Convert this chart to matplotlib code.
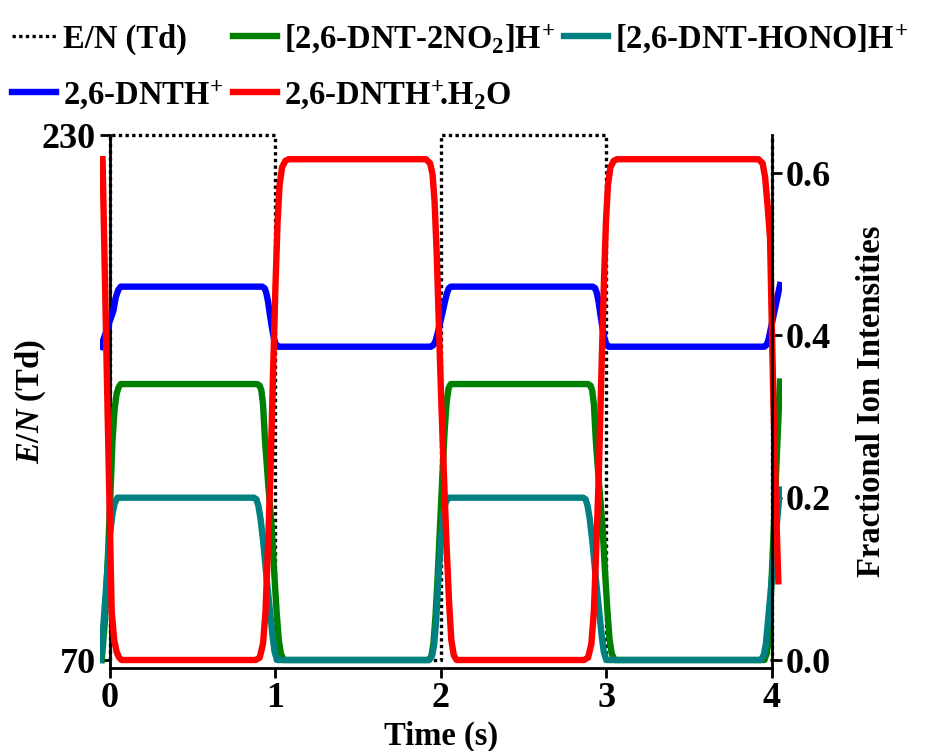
import matplotlib
matplotlib.use("Agg")
import matplotlib.pyplot as plt
from matplotlib.lines import Line2D

plt.rcParams['font.family'] = ['Liberation Serif', 'DejaVu Serif']
plt.rcParams['font.weight'] = 'bold'
plt.rcParams['axes.labelweight'] = 'bold'
plt.rcParams['mathtext.fontset'] = 'custom'
plt.rcParams['mathtext.rm'] = 'Liberation Serif:bold'
plt.rcParams['mathtext.it'] = 'Liberation Serif:italic:bold'
plt.rcParams['mathtext.bf'] = 'Liberation Serif:bold'

# E/N square wave (Td)
en_t = [0, 0, 1, 1, 2, 2, 3, 3, 4, 4]
en_v = [70, 230, 230, 70, 70, 230, 230, 70, 70, 230]

# 2,6-DNTH+.H2O
red_t = [-0.045, -0.016, 0.01, 0.025, 0.04, 0.055, 0.07,
         0.88, 0.905, 0.925, 0.94, 0.955, 0.97, 0.985, 1.0, 1.013, 1.025, 1.04, 1.06, 1.08,
         1.91, 1.935, 1.95, 1.962, 1.975, 1.99, 2.004, 2.02, 2.034, 2.05, 2.063, 2.078, 2.095,
         2.865, 2.89, 2.91, 2.925, 2.94, 2.955, 2.97, 2.985, 2.998, 3.01, 3.025, 3.045, 3.065,
         3.92, 3.945, 3.96, 3.975, 3.99, 4.01, 4.025, 4.04]
red_v = [0.617, 0.32, 0.06, 0.025, 0.01, 0.003, 0.0,
         0.0, 0.003, 0.02, 0.06, 0.14, 0.23, 0.35, 0.46, 0.54, 0.585, 0.607, 0.615, 0.617,
         0.617, 0.612, 0.598, 0.565, 0.50, 0.40, 0.31, 0.22, 0.144, 0.07, 0.025, 0.006, 0.0,
         0.0, 0.003, 0.02, 0.06, 0.14, 0.23, 0.35, 0.46, 0.54, 0.585, 0.607, 0.615, 0.617,
         0.617, 0.612, 0.595, 0.56, 0.52, 0.32, 0.20, 0.097]

# 2,6-DNTH+
blue_t = [-0.055, 0.02, 0.035, 0.05, 0.065,
          0.92, 0.935, 0.945, 0.955, 0.967, 0.98, 0.992, 1.003, 1.015,
          1.94, 1.955, 1.968, 1.98, 1.995, 2.01, 2.025, 2.037, 2.048, 2.06,
          2.918, 2.933, 2.943, 2.953, 2.965, 2.978, 2.99, 3.001, 3.013,
          3.955, 3.968, 3.98, 4.05]
blue_v = [0.386, 0.43, 0.447, 0.456, 0.46,
          0.46, 0.458, 0.452, 0.442, 0.425, 0.408, 0.395, 0.389, 0.386,
          0.386, 0.388, 0.393, 0.402, 0.415, 0.428, 0.442, 0.452, 0.458, 0.46,
          0.46, 0.458, 0.452, 0.442, 0.425, 0.408, 0.395, 0.389, 0.386,
          0.386, 0.388, 0.394, 0.462]

# [2,6-DNT-2NO2]H+
green_t = [-0.05, -0.03, -0.01, 0.015, 0.028, 0.04, 0.052, 0.065,
           0.89, 0.905, 0.915, 0.925, 0.937, 0.957, 0.977, 0.992, 1.007, 1.02, 1.033, 1.05,
           1.925, 1.942, 1.955, 1.968, 1.98, 1.995, 2.01, 2.022, 2.035, 2.047, 2.06,
           2.89, 2.905, 2.915, 2.925, 2.937, 2.957, 2.977, 2.992, 3.007, 3.02, 3.033, 3.05,
           3.955, 3.97, 3.985, 4.05]
green_v = [0.0, 0.05, 0.14, 0.27, 0.31, 0.328, 0.336, 0.34,
           0.34, 0.338, 0.332, 0.315, 0.27, 0.215, 0.165, 0.11, 0.06, 0.025, 0.008, 0.0,
           0.0, 0.004, 0.02, 0.055, 0.10, 0.165, 0.23, 0.28, 0.318, 0.335, 0.34,
           0.34, 0.338, 0.332, 0.315, 0.27, 0.215, 0.165, 0.11, 0.06, 0.025, 0.008, 0.0,
           0.0, 0.008, 0.03, 0.343]

# [2,6-DNT-HONO]H+
teal_t = [-0.055, -0.02, 0.0, 0.015, 0.028, 0.045,
          0.87, 0.885, 0.897, 0.91, 0.927, 0.947, 0.967, 0.982, 0.995, 1.01,
          1.93, 1.948, 1.96, 1.972, 1.985, 2.0, 2.01, 2.02, 2.033, 2.05,
          2.86, 2.875, 2.887, 2.9, 2.917, 2.937, 2.957, 2.972, 2.985, 3.0,
          3.935, 3.952, 3.965, 4.05]
teal_v = [0.0, 0.10, 0.155, 0.18, 0.193, 0.20,
          0.20, 0.198, 0.19, 0.174, 0.144, 0.10, 0.06, 0.03, 0.01, 0.0,
          0.0, 0.006, 0.02, 0.05, 0.10, 0.145, 0.17, 0.187, 0.196, 0.20,
          0.20, 0.198, 0.19, 0.174, 0.144, 0.10, 0.06, 0.03, 0.01, 0.0,
          0.0, 0.006, 0.02, 0.21]

fig = plt.figure(figsize=(9.25, 7.51), dpi=100)
ax = fig.add_axes([0.1082, 0.1105, 0.7368, 0.7097])
ax2 = ax.twinx()

lw = 4.6
ax.plot(en_t, en_v, color='black', lw=2.4, linestyle=(0, (1, 1)), clip_on=False)

ax2.plot(green_t, green_v, color='#008000', lw=lw, solid_joinstyle='round')
ax2.plot(teal_t, teal_v, color='#008080', lw=lw, solid_joinstyle='round')
ax2.plot(blue_t, blue_v, color='#0000ff', lw=lw, solid_joinstyle='round')
ax2.plot(red_t, red_v, color='#ff0000', lw=lw, solid_joinstyle='round')

ax.set_xlim(-0.06, 4.06)
ax.set_ylim(67.56, 230)
ax2.set_ylim(-0.00986, 0.6468)

for s in ['top', 'right']:
    ax.spines[s].set_visible(False)
for s in ['top', 'left', 'bottom']:
    ax2.spines[s].set_visible(False)
ax.spines['left'].set_position(('data', 0))
ax2.spines['right'].set_position(('data', 4))
ax.spines['bottom'].set_bounds(0, 4)
for sp in [ax.spines['left'], ax.spines['bottom'], ax2.spines['right']]:
    sp.set_linewidth(2)

ax.set_xticks([0, 1, 2, 3, 4])
ax.set_yticks([70, 230])
ax2.set_yticks([0.0, 0.2, 0.4, 0.6])
ax2.set_yticklabels(['0.0', '0.2', '0.4', '0.6'])
ax.tick_params(direction='out', length=7, width=2, labelsize=26, pad=3)
ax2.tick_params(direction='out', length=7, width=2, labelsize=26, pad=3)

ax.set_xlabel('Time (s)', fontsize=23.5, labelpad=4)
ax.set_ylabel('$E/N$ (Td)', fontsize=23.5, labelpad=-4)
ax2.set_ylabel('Fractional Ion Intensities', fontsize=23.5, labelpad=18)

handles = [
    Line2D([], [], color='black', lw=2.4, linestyle=(0, (1, 1))),
    Line2D([], [], color='#0000ff', lw=lw),
    Line2D([], [], color='#008000', lw=lw),
    Line2D([], [], color='#ff0000', lw=lw),
    Line2D([], [], color='#008080', lw=lw),
]
labels = ['E/N (Td)', r'2,6-DNTH$^{\!+}$', r'[2,6-DNT-2NO$_2$]H$^{\!+}$',
          r'2,6-DNTH$^{\!+}\!\!$.H$_2$O', r'[2,6-DNT-HONO]H$^{\!+}$']
fig.legend(handles, labels, ncol=3, loc='upper left', bbox_to_anchor=(0.013, 0.971),
           frameon=False, fontsize=23.5, handlelength=1.35, handletextpad=0.2,
           columnspacing=0.3, labelspacing=0.7, borderaxespad=0, borderpad=0)

fig.savefig('out.png', dpi=100)
